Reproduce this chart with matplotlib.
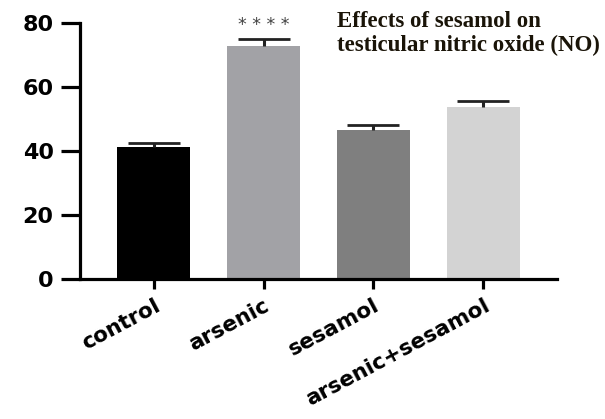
import numpy as np
import matplotlib
matplotlib.use("Agg")
import matplotlib.pyplot as plt
import matplotlib.transforms as mtransforms

groups = ["control", "arsenic", "sesamol", "arsenic+sesamol"]
means = [41.2, 72.9, 46.5, 53.8]
sems = [1.2, 2.1, 1.5, 1.7]
barColors = ["#000000", "#a2a2a6", "#7f7f7f", "#d3d3d3"]
yticks = [0, 20, 40, 60, 80]

fig = plt.figure(figsize=(6.05, 4.19), dpi=100)
ax = fig.add_axes([80 / 605, 1 - 279 / 419, (557 - 80) / 605, (279 - 23) / 419])

x = np.arange(len(groups))
ax.bar(x, means, width=0.66, color=barColors, zorder=2)
# only the upper half of the error bar, GraphPad style
eb = ax.errorbar(x, means, yerr=[np.zeros(len(sems)), sems], fmt='none',
                 ecolor='#222222', elinewidth=2.2, capsize=19, capthick=2.0, zorder=3)
eb[1][0].set_visible(False)

ax.set_xlim(-0.67, 3.67)
ax.set_ylim(0, 80)
ax.set_yticks(yticks)
ax.set_yticklabels([str(v) for v in yticks], fontsize=16, fontweight='bold',
                   family='DejaVu Sans')
ax.set_xticks(x)
ax.set_xticklabels(groups, fontsize=15.5, fontweight='bold', family='DejaVu Sans',
                   rotation=28, ha='right', va='top', rotation_mode='anchor')
shift = mtransforms.ScaledTranslation(5 / 100, -3 / 100, fig.dpi_scale_trans)
for lbl in ax.get_xticklabels():
    lbl.set_transform(lbl.get_transform() + shift)

for side in ['top', 'right']:
    ax.spines[side].set_visible(False)
for side in ['left', 'bottom']:
    ax.spines[side].set_linewidth(2.3)
ax.tick_params(axis='y', length=14, width=2.3, pad=5)
ax.tick_params(axis='x', length=7, width=2.3, pad=5)

ax.text(1, 79.5, "* * * *", ha='center', va='center', fontsize=12.5, color='#444444')

fig.text(337 / 605, 1 - 11 / 419, "Effects of sesamol on\ntesticular nitric oxide (NO)",
         ha='left', va='top', fontsize=16.5, fontweight='bold',
         family='Liberation Serif', color='#1a1408', linespacing=1.2)

fig.savefig("out.png", dpi=100)
